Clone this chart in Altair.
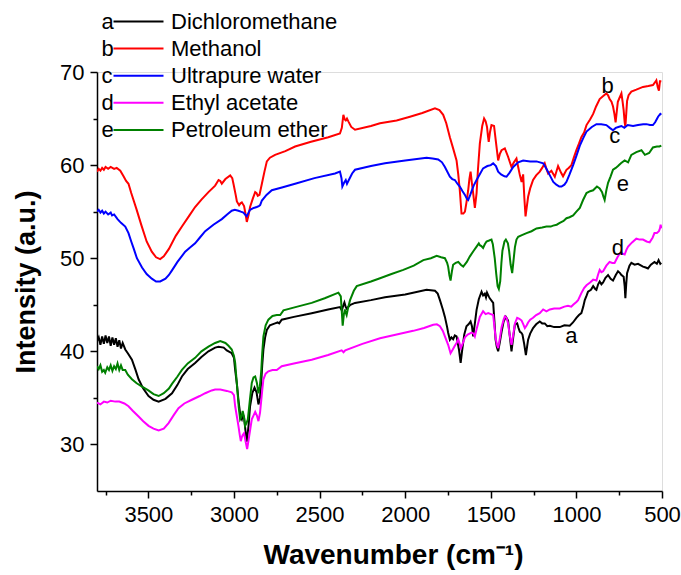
import altair as alt
import pandas as pd

names = ["Dichloromethane", "Methanol", "Ultrapure water", "Ethyl acetate", "Petroleum ether"]
letters = ["a", "b", "c", "d", "e"]
colors = ["#000000", "#FF0000", "#0000FF", "#FF00FF", "#008000"]

# (wavenumber, intensity) pairs
a_pts = [(3800, 41.1), (3790, 41.5), (3780, 40.7), (3770, 41.6), (3760, 40.8), (3750, 41.7), (3740, 40.9),
         (3730, 41.6), (3720, 40.6), (3710, 41.5), (3700, 40.7), (3690, 41.4), (3680, 40.5), (3670, 41.2),
         (3660, 40.3), (3650, 40.9), (3635, 40.2), (3620, 39.8), (3596, 39.1), (3575, 38.0), (3557, 37.0),
         (3530, 36.0), (3499, 35.2), (3470, 34.8), (3440, 34.6), (3400, 34.9), (3362, 35.5), (3330, 36.4),
         (3304, 37.3), (3270, 38.1), (3227, 38.75), (3190, 39.4), (3149, 40.0), (3110, 40.4), (3090, 40.5),
         (3060, 40.4), (3042, 40.1), (3013, 39.8), (3000, 39.3), (2993, 38.0), (2983, 36.5), (2974, 34.8),
         (2962, 33.0), (2954, 32.7), (2947, 33.2), (2941, 32.9), (2933, 31.5), (2925, 30.3), (2915, 32.0),
         (2906, 34.1), (2893, 35.5), (2880, 36.1), (2868, 35.6), (2857, 34.3), (2848, 35.0), (2841, 36.6),
         (2835, 38.5), (2828, 40.2), (2818, 41.5), (2808, 42.3), (2790, 42.8), (2760, 43.0), (2745, 43.1),
         (2736, 43.0), (2721, 43.4), (2650, 43.7), (2546, 44.1), (2450, 44.5), (2381, 44.75), (2370, 44.4),
         (2362, 44.9), (2355, 45.25), (2348, 44.8), (2342, 44.6), (2320, 45.0), (2293, 45.2), (2200, 45.5),
         (2118, 45.8), (2000, 46.1), (1875, 46.6), (1826, 46.5), (1810, 46.2), (1797, 45.5), (1780, 44.5),
         (1768, 43.7), (1755, 42.6), (1749, 42.0), (1739, 41.25), (1730, 41.5), (1720, 41.3), (1710, 41.7),
         (1700, 41.6), (1692, 40.8), (1686, 40.2), (1676, 38.75), (1668, 40.0), (1655, 41.8), (1642, 42.7),
         (1630, 42.9), (1618, 43.2), (1610, 42.7), (1603, 41.6), (1593, 43.0), (1583, 44.45), (1570, 45.6),
         (1554, 46.4), (1545, 46.0), (1535, 46.2), (1528, 45.8), (1522, 46.3), (1512, 45.9), (1506, 45.7),
         (1486, 45.2), (1478, 43.0), (1472, 41.25), (1465, 40.5), (1457, 40.0), (1447, 41.0), (1437, 42.1),
         (1425, 43.2), (1412, 43.7), (1399, 43.3), (1390, 41.8), (1379, 40.0), (1369, 41.5), (1359, 42.9),
         (1346, 43.0), (1338, 42.5), (1330, 42.1), (1322, 42.0), (1315, 41.8), (1305, 40.8), (1295, 39.6),
         (1288, 40.5), (1282, 41.25), (1270, 41.9), (1253, 42.5), (1235, 42.9), (1214, 43.2), (1200, 43.0),
         (1185, 43.0), (1170, 42.7), (1155, 42.75), (1130, 42.6), (1097, 42.6), (1070, 42.8), (1039, 42.75),
         (1020, 43.1), (1000, 43.6), (985, 43.9), (971, 44.1), (960, 44.8), (951, 45.5), (940, 46.0),
         (932, 46.4), (915, 46.6), (902, 47.0), (890, 46.7), (883, 46.6), (873, 47.2), (864, 47.5),
         (854, 47.2), (844, 47.4), (830, 47.9), (815, 48.2), (800, 47.8), (786, 47.6), (770, 48.2),
         (757, 48.6), (745, 48.4), (737, 48.2), (724, 48.0), (718, 47.0), (714, 45.7), (709, 47.2),
         (704, 48.4), (690, 49.2), (679, 49.5), (660, 49.3), (640, 49.4), (611, 49.1), (595, 49.0),
         (582, 48.9), (565, 49.3), (544, 49.6), (530, 49.4), (520, 49.8), (510, 49.4), (504, 49.5)]

b_pts = [(3800, 59.3), (3790, 59.6), (3780, 59.4), (3770, 59.7), (3760, 59.5), (3750, 59.8), (3735, 59.6),
         (3720, 59.8), (3700, 59.6), (3685, 59.7), (3664, 59.4), (3645, 58.8), (3630, 58.3), (3616, 58.0),
         (3600, 57.0), (3570, 55.3), (3540, 53.5), (3510, 51.8), (3480, 50.7), (3455, 50.1), (3431, 49.9),
         (3410, 50.2), (3380, 51.0), (3340, 52.4), (3304, 53.4), (3260, 54.6), (3227, 55.5), (3190, 56.3),
         (3149, 57.1), (3110, 57.8), (3090, 58.4), (3080, 58.3), (3071, 58.0), (3050, 58.5), (3022, 58.9),
         (3010, 58.6), (3003, 58.0), (2990, 56.8), (2983, 56.1), (2970, 55.7), (2962, 55.9), (2954, 56.0),
         (2941, 55.6), (2933, 54.8), (2925, 53.9), (2915, 54.6), (2906, 55.5), (2890, 56.4), (2876, 57.1),
         (2868, 57.0), (2861, 56.7), (2851, 56.8), (2837, 58.0), (2822, 59.3), (2808, 60.4), (2790, 60.8),
         (2760, 61.1), (2700, 61.5), (2643, 62.0), (2550, 62.5), (2449, 63.0), (2381, 63.4), (2370, 64.0),
         (2361, 65.4), (2353, 64.9), (2347, 64.8), (2340, 65.0), (2332, 64.7), (2315, 64.1), (2293, 63.8),
         (2200, 64.2), (2147, 64.5), (2050, 64.8), (1972, 65.2), (1900, 65.6), (1826, 66.1), (1800, 65.9),
         (1778, 65.4), (1760, 64.5), (1739, 63.0), (1720, 61.8), (1700, 60.5), (1690, 59.0), (1681, 57.3),
         (1671, 54.8), (1660, 54.8), (1651, 55.0), (1642, 56.0), (1632, 57.3), (1625, 58.5), (1618, 59.3),
         (1610, 58.0), (1603, 57.0), (1593, 55.4), (1583, 57.0), (1575, 59.5), (1564, 62.3), (1550, 64.2),
         (1539, 65.0), (1530, 64.7), (1522, 64.1), (1517, 63.2), (1512, 62.5), (1505, 63.5), (1496, 64.3),
         (1481, 64.2), (1470, 62.5), (1457, 60.5), (1447, 61.2), (1437, 61.6), (1418, 61.8), (1399, 60.9),
         (1379, 59.8), (1365, 60.3), (1350, 60.7), (1340, 59.8), (1330, 58.9), (1320, 58.2), (1311, 59.0),
         (1304, 56.5), (1297, 54.5), (1290, 55.5), (1282, 56.6), (1270, 57.5), (1253, 58.4), (1235, 58.9),
         (1214, 59.3), (1200, 59.7), (1185, 60.2), (1175, 59.6), (1165, 59.1), (1146, 59.4), (1126, 58.75),
         (1107, 59.9), (1090, 59.2), (1078, 58.8), (1058, 59.5), (1045, 59.7), (1029, 60.0), (1015, 60.8),
         (1000, 61.6), (985, 62.3), (971, 63.0), (955, 63.5), (941, 64.3), (920, 64.9), (902, 65.5),
         (885, 66.3), (864, 67.1), (845, 67.4), (825, 67.7), (815, 67.5), (806, 67.1), (795, 66.8),
         (786, 66.3), (778, 65.5), (771, 64.6), (764, 65.8), (758, 66.8), (751, 67.1), (737, 67.7),
         (730, 66.8), (724, 65.9), (718, 64.6), (714, 64.1), (709, 65.5), (704, 66.9), (695, 67.5),
         (679, 67.9), (650, 68.1), (611, 68.4), (580, 68.5), (553, 68.6), (540, 68.9), (533, 69.1),
         (525, 68.4), (518, 68.0), (512, 69.0), (504, 69.0)]

c_pts = [(3800, 55.0), (3790, 55.2), (3780, 54.9), (3770, 55.1), (3760, 54.8), (3750, 55.0), (3735, 54.7),
         (3720, 54.9), (3712, 54.6), (3700, 54.7), (3680, 54.2), (3660, 53.8), (3635, 53.4), (3616, 52.7),
         (3600, 51.8), (3585, 51.0), (3567, 50.0), (3537, 49.0), (3510, 48.3), (3480, 47.8), (3455, 47.5),
         (3431, 47.5), (3400, 47.8), (3380, 48.2), (3362, 48.7), (3330, 49.6), (3285, 50.7), (3260, 51.1),
         (3227, 51.6), (3200, 52.2), (3168, 52.9), (3120, 53.6), (3071, 54.2), (3040, 54.7), (3013, 55.1),
         (2995, 55.2), (2974, 55.1), (2960, 55.0), (2945, 54.9), (2935, 54.7), (2925, 54.5), (2915, 54.9),
         (2906, 55.2), (2885, 55.4), (2867, 55.5), (2855, 55.6), (2847, 55.7), (2837, 56.2), (2810, 56.8),
         (2779, 57.3), (2720, 57.6), (2643, 58.0), (2530, 58.6), (2410, 59.1), (2381, 59.3), (2372, 58.6),
         (2367, 57.7), (2357, 58.1), (2347, 58.4), (2340, 58.0), (2332, 58.3), (2310, 59.1), (2293, 59.5),
         (2200, 59.9), (2118, 60.2), (2000, 60.5), (1875, 60.8), (1840, 60.7), (1807, 60.6), (1785, 60.3),
         (1768, 59.8), (1739, 58.75), (1725, 58.5), (1710, 58.4), (1695, 58.0), (1681, 57.7), (1665, 57.2),
         (1651, 56.8), (1640, 56.4), (1632, 56.25), (1620, 56.8), (1612, 57.2), (1600, 57.8), (1583, 58.4),
         (1565, 59.0), (1545, 59.65), (1520, 59.9), (1500, 60.0), (1486, 60.2), (1470, 59.9), (1457, 59.3),
         (1440, 59.0), (1420, 58.8), (1408, 58.75), (1390, 59.2), (1369, 59.8), (1340, 60.3), (1311, 60.5),
         (1270, 60.4), (1233, 60.4), (1194, 60.2), (1175, 59.6), (1155, 58.9), (1135, 58.2), (1117, 57.9),
         (1100, 57.7), (1087, 57.7), (1070, 57.9), (1058, 58.2), (1040, 59.0), (1019, 60.0), (1000, 61.0),
         (980, 62.1), (960, 62.9), (941, 63.6), (910, 64.1), (883, 64.4), (855, 64.4), (825, 64.3),
         (805, 64.0), (786, 63.75), (770, 64.0), (755, 64.1), (737, 64.2), (720, 64.0), (700, 64.3),
         (669, 64.2), (640, 64.3), (610, 64.4), (591, 64.4), (570, 64.3), (553, 64.3), (540, 64.6),
         (523, 65.2), (510, 65.5), (504, 65.4)]

d_pts = [(3800, 34.5), (3780, 34.3), (3760, 34.6), (3740, 34.5), (3720, 34.7), (3693, 34.6), (3670, 34.6),
         (3640, 34.4), (3616, 34.1), (3590, 33.6), (3557, 33.0), (3530, 32.5), (3499, 32.0), (3470, 31.7),
         (3440, 31.5), (3410, 31.7), (3382, 32.3), (3350, 33.2), (3324, 33.9), (3290, 34.4), (3246, 34.8),
         (3200, 35.2), (3168, 35.5), (3130, 35.8), (3110, 35.9), (3080, 35.9), (3042, 35.75), (3013, 35.6),
         (3000, 35.3), (2993, 34.1), (2983, 33.0), (2974, 32.0), (2966, 31.0), (2960, 30.35), (2954, 30.8),
         (2949, 31.0), (2941, 31.2), (2932, 30.3), (2923, 29.5), (2912, 30.8), (2896, 32.7), (2876, 33.5),
         (2866, 33.1), (2857, 32.5), (2848, 33.4), (2843, 34.3), (2835, 35.8), (2828, 37.0), (2815, 37.6),
         (2799, 37.85), (2775, 38.0), (2750, 38.0), (2721, 38.4), (2650, 38.7), (2546, 39.1), (2450, 39.6),
         (2371, 40.1), (2360, 39.9), (2350, 40.1), (2250, 40.8), (2147, 41.4), (2050, 41.8), (1953, 42.2),
         (1890, 42.5), (1836, 42.85), (1815, 42.9), (1797, 42.7), (1780, 42.2), (1768, 41.6), (1749, 40.7),
         (1735, 39.8), (1722, 40.2), (1710, 40.6), (1700, 40.9), (1690, 41.3), (1683, 40.9), (1675, 40.35),
         (1665, 40.8), (1651, 41.5), (1635, 41.8), (1612, 42.0), (1600, 41.9), (1593, 41.6), (1580, 42.6),
         (1564, 43.7), (1545, 44.3), (1530, 44.0), (1515, 44.1), (1500, 44.0), (1486, 43.9), (1478, 42.5),
         (1472, 41.5), (1465, 40.8), (1457, 40.35), (1447, 41.4), (1437, 42.6), (1425, 43.4), (1418, 43.75),
         (1408, 43.6), (1399, 43.0), (1390, 41.8), (1379, 40.7), (1369, 41.8), (1359, 43.0), (1346, 43.6),
         (1333, 43.5), (1320, 43.3), (1310, 42.9), (1301, 42.5), (1290, 42.8), (1282, 43.1), (1270, 43.4),
         (1253, 43.6), (1235, 43.9), (1214, 44.1), (1194, 44.5), (1175, 44.3), (1155, 44.5), (1130, 44.6),
         (1097, 44.6), (1070, 44.8), (1049, 44.9), (1030, 44.8), (1019, 45.0), (1000, 45.3), (990, 45.5),
         (971, 46.25), (955, 46.8), (941, 47.1), (920, 47.4), (902, 47.7), (883, 47.6), (874, 48.2),
         (864, 48.75), (854, 48.5), (844, 48.6), (825, 49.2), (806, 49.6), (790, 49.5), (777, 49.5),
         (760, 50.1), (747, 50.5), (732, 50.5), (718, 50.4), (708, 50.9), (698, 51.25), (675, 51.7),
         (650, 52.1), (630, 52.0), (611, 52.0), (590, 51.8), (572, 51.7), (555, 52.2), (544, 52.7),
         (530, 52.7), (518, 52.9), (512, 53.2), (508, 53.6), (504, 53.2)]

e_pts = [(3800, 38.4), (3790, 38.1), (3780, 38.5), (3770, 37.8), (3760, 38.0), (3752, 37.7), (3740, 38.3),
         (3730, 38.0), (3720, 38.5), (3710, 37.9), (3700, 38.4), (3690, 38.1), (3680, 38.7), (3670, 38.0),
         (3660, 38.5), (3650, 38.0), (3635, 38.0), (3620, 37.5), (3596, 37.0), (3570, 36.6), (3537, 36.2),
         (3500, 35.8), (3470, 35.4), (3440, 35.2), (3410, 35.5), (3380, 36.0), (3362, 36.5), (3330, 37.3),
         (3304, 38.0), (3270, 38.7), (3227, 39.3), (3190, 40.0), (3149, 40.5), (3110, 40.9), (3080, 41.1),
         (3050, 40.9), (3032, 40.6), (3013, 40.2), (3000, 39.5), (2993, 38.75), (2983, 36.5), (2972, 34.0),
         (2964, 32.7), (2956, 33.0), (2949, 33.6), (2942, 33.0), (2935, 32.0), (2927, 32.3), (2919, 32.7),
         (2907, 34.8), (2896, 36.6), (2886, 37.2), (2876, 37.3), (2866, 36.6), (2857, 35.5), (2849, 36.2),
         (2841, 37.8), (2835, 39.8), (2828, 41.6), (2815, 42.8), (2799, 43.4), (2775, 43.8), (2750, 43.9),
         (2730, 43.9), (2711, 44.4), (2630, 44.8), (2546, 45.2), (2470, 45.7), (2390, 46.3), (2376, 45.9),
         (2370, 44.2), (2365, 42.75), (2358, 44.0), (2352, 44.5), (2346, 44.1), (2342, 43.9), (2332, 44.8),
         (2322, 45.5), (2300, 46.5), (2283, 47.0), (2200, 47.5), (2147, 47.85), (2080, 48.3), (2011, 48.75),
         (1950, 49.2), (1894, 49.8), (1850, 50.0), (1816, 50.25), (1790, 50.1), (1768, 50.0), (1755, 49.5),
         (1749, 49.1), (1742, 48.2), (1735, 47.6), (1727, 48.6), (1720, 49.3), (1705, 49.5), (1690, 49.6),
         (1675, 49.3), (1661, 49.1), (1640, 49.6), (1622, 50.2), (1600, 50.8), (1583, 51.25), (1570, 51.6),
         (1564, 51.4), (1555, 51.3), (1545, 51.1), (1535, 51.5), (1525, 51.8), (1510, 51.9), (1496, 52.0),
         (1488, 51.5), (1477, 50.0), (1468, 48.3), (1460, 47.0), (1453, 46.7), (1445, 47.5), (1438, 49.5),
         (1432, 50.8), (1420, 51.8), (1412, 52.0), (1400, 51.6), (1393, 50.8), (1384, 49.3), (1375, 48.4),
         (1367, 49.8), (1359, 51.2), (1350, 52.0), (1340, 52.3), (1315, 52.5), (1291, 52.7), (1262, 52.9),
         (1233, 53.2), (1200, 53.3), (1175, 53.4), (1150, 53.4), (1136, 53.5), (1115, 53.6), (1097, 53.8),
         (1075, 54.0), (1058, 54.3), (1040, 54.4), (1019, 54.6), (1000, 55.0), (980, 55.4), (961, 56.25),
         (941, 57.0), (920, 57.2), (902, 57.3), (880, 57.7), (864, 57.5), (850, 57.1), (842, 56.6),
         (835, 56.25), (825, 57.3), (815, 58.1), (800, 58.8), (786, 59.5), (770, 59.7), (757, 59.9),
         (740, 60.2), (718, 60.5), (698, 60.3), (679, 61.1), (650, 61.4), (620, 61.6), (600, 61.1),
         (575, 61.3), (553, 61.9), (530, 62.0), (515, 62.0), (504, 62.1)]

# letter annotations next to the curves (wavenumber, intensity)
note_letters = ["a", "b", "c", "d", "e"]
note_wn = [1029, 817, 776, 758, 729]
note_val = [41.6, 68.5, 63.1, 51.1, 58.0]

x_major = [500, 1000, 1500, 2000, 2500, 3000, 3500]
x_minor = [750, 1250, 1750, 2250, 2750, 3250, 3750]
y_major = [30, 40, 50, 60, 70]
y_minor = [35, 45, 55, 65]

FONT = "Liberation Sans"

rows = []
for name, pts in zip(names, [a_pts, b_pts, c_pts, d_pts, e_pts]):
    for wn, v in pts:
        rows.append({"series": name, "wn": wn, "val": v})
df = pd.DataFrame(rows)

xscale = alt.Scale(domain=[500, 3800], reverse=True, nice=False, zero=False)
yscale = alt.Scale(domain=[25, 70], nice=False, zero=False)
cscale = alt.Scale(domain=names, range=colors)

lines = alt.Chart(df).mark_line(strokeWidth=2, clip=True).encode(
    x=alt.X("wn:Q", scale=xscale,
            axis=alt.Axis(values=x_major, format="d", labelFontSize=22, labelFont=FONT,
                          labelColor="black", labelFlush=False, labelPadding=6,
                          tickSize=7, tickWidth=1.5, tickColor="black",
                          domainColor="black", domainWidth=1.5, grid=False,
                          title="Wavenumber (cm\u207b\u00b9)", titleFont=FONT, titleFontSize=28,
                          titleFontWeight="bold", titleColor="black",
                          titleX=296, titleY=72, titleAlign="center", titleBaseline="alphabetic",
                          orient="bottom")),
    y=alt.Y("val:Q", scale=yscale,
            axis=alt.Axis(values=y_major, labelFontSize=22, labelFont=FONT, labelColor="black",
                          labelFlush=False, labelPadding=6,
                          tickSize=7, tickWidth=1.5, tickColor="black",
                          domainColor="black", domainWidth=1.5, grid=False,
                          title="Intensity (a.u.)", titleFont=FONT, titleFontSize=27,
                          titleFontWeight="bold", titleColor="black",
                          titleX=-63, titleY=209.5, titleAngle=270, titleAlign="center",
                          titleBaseline="alphabetic", orient="left")),
    color=alt.Color("series:N", scale=cscale, legend=None),
    detail="series:N",
)

minor = alt.Chart(df).mark_line(strokeOpacity=0).encode(
    x=alt.X("wn:Q", scale=xscale,
            axis=alt.Axis(values=x_minor, labels=False, tickSize=4, tickWidth=1.5,
                          tickColor="black", domain=False, grid=False, title="",
                          orient="bottom")),
    y=alt.Y("val:Q", scale=yscale,
            axis=alt.Axis(values=y_minor, labels=False, tickSize=4, tickWidth=1.5,
                          tickColor="black", domain=False, grid=False, title="",
                          orient="left")),
    detail="series:N",
)

note_df = pd.DataFrame({"letter": note_letters, "wn": note_wn, "val": note_val})
notes = alt.Chart(note_df).mark_text(fontSize=22, font=FONT, color="black",
                                     align="center", baseline="middle").encode(
    x=alt.X("wn:Q", scale=xscale, axis=None),
    y=alt.Y("val:Q", scale=yscale, axis=None),
    text="letter:N",
)

# legend (letter, line sample, name)
one = alt.Data(values=[{}])
legend_layers = []
for i, (name, letter, col) in enumerate(zip(names, letters, colors)):
    yy = -50 + 27.1 * i
    legend_layers.append(
        alt.Chart(one).mark_text(text=letter, fontSize=22, font=FONT, color="black",
                                 align="left", baseline="middle")
        .encode(x=alt.value(4.5), y=alt.value(yy))
    )
    legend_layers.append(
        alt.Chart(one).mark_rule(color=col, strokeWidth=2)
        .encode(x=alt.value(16.5), x2=alt.value(66.5), y=alt.value(yy - 0.5))
    )
    legend_layers.append(
        alt.Chart(one).mark_text(text=name, fontSize=22, font=FONT, color="black",
                                 align="left", baseline="middle")
        .encode(x=alt.value(74), y=alt.value(yy))
    )

chart = alt.layer(lines, minor, notes, *legend_layers).resolve_axis(
    x="independent", y="independent"
).properties(
    width=565, height=419,
    autosize=alt.AutoSizeParams(type="none"),
    padding={"left": 97, "top": 72, "right": 19, "bottom": 84},
).configure_view(strokeWidth=0).configure(font=FONT)

chart.save("out.html", embed_options={"renderer": "svg", "actions": False})
